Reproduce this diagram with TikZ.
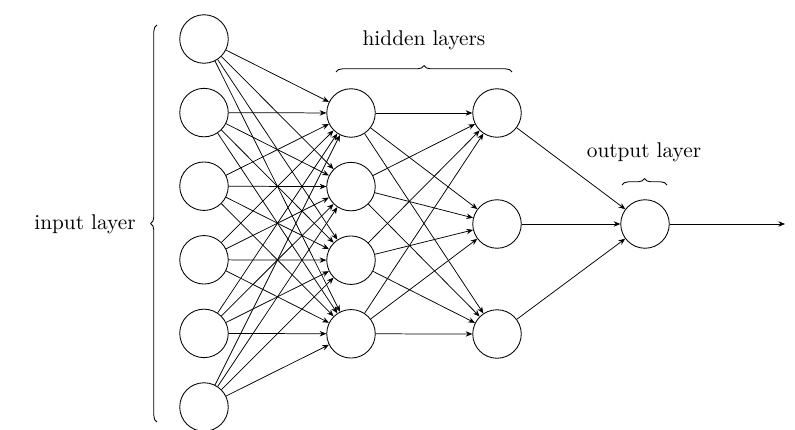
\documentclass[tikz,border=0pt]{standalone}
\usepackage{tikz}
\usetikzlibrary{arrows.meta,decorations.pathreplacing}

\begin{document}
\begin{tikzpicture}[
    x=0.0165cm, y=-0.0165cm,
    nnnode/.style={draw=black, circle, fill=white, line width=0.4pt, minimum size=0.8cm, inner sep=0pt},
    nnarrow/.style={draw=black, line width=0.35pt, -{Stealth[length=1.1mm,width=0.9mm]}},
    nnbrace/.style={draw=black, line width=0.4pt, decoration={brace, amplitude=3pt}, decorate}
]
  \useasboundingbox (0,0) rectangle (795,430);
  % layers
  \foreach \i in {1,...,6}
    \node[nnnode] (in\i) at (204,{39+73.6*(\i-1)}) {};
  \foreach \i in {1,...,4}
    \node[nnnode] (ha\i) at (351,{113+73.6*(\i-1)}) {};
  \node[nnnode] (hb1) at (497,113) {};
  \node[nnnode] (hb2) at (497,224) {};
  \node[nnnode] (hb3) at (497,334) {};
  \node[nnnode] (out) at (645,224) {};
  \coordinate (end) at (785,224);
  % connections
  \foreach \i in {1,...,6}
    \foreach \j in {1,...,4}
      \draw[nnarrow] (in\i) -- (ha\j);
  \foreach \i in {1,...,4}
    \foreach \j in {1,...,3}
      \draw[nnarrow] (ha\i) -- (hb\j);
  \foreach \i in {1,...,3}
    \draw[nnarrow] (hb\i) -- (out);
  \draw[nnarrow] (out) -- (end);
  % braces and labels
  \draw[nnbrace] (157,422) -- (157,25);
  \node (inlabel) at (85,224) {input layer};
  \draw[nnbrace] (336,72) -- (512,72);
  \node (hidlabel) at (424,40) {hidden layers};
  \draw[nnbrace] (622,185) -- (667,185);
  \node (outlabel) at (644,152) {output layer};
\end{tikzpicture}
\end{document}
